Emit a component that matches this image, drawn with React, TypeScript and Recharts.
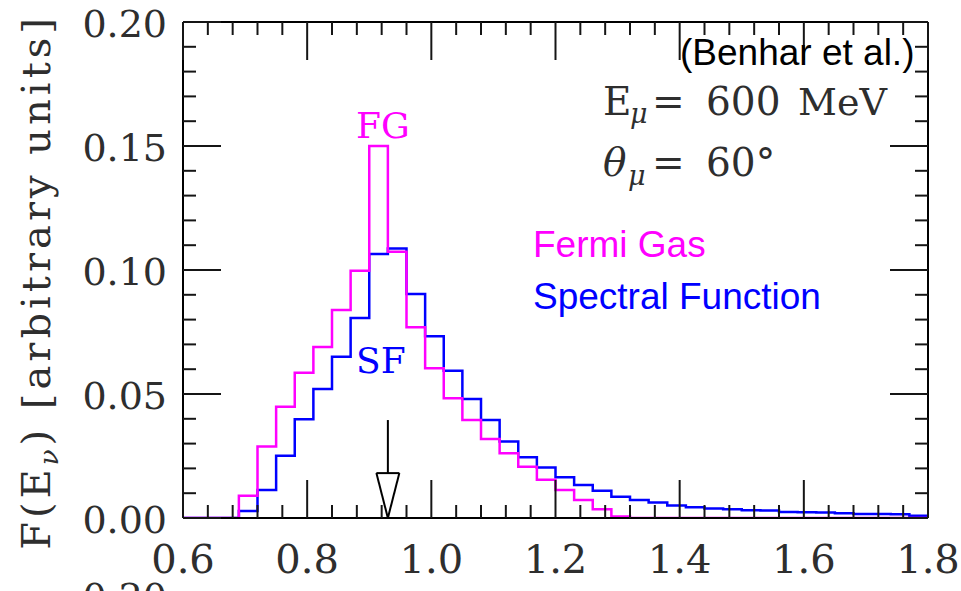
import React from 'react';
import { LineChart, Line, XAxis, YAxis, ReferenceLine } from 'recharts';

// bin edges of the histograms (last entry closes the final bin)
const binEdges = [
  0.6, 0.69, 0.72, 0.75, 0.78, 0.81, 0.84, 0.87, 0.9, 0.93, 0.96, 0.99, 1.02,
  1.05, 1.08, 1.11, 1.14, 1.17, 1.2, 1.23, 1.26, 1.29, 1.32, 1.35, 1.38, 1.41,
  1.44, 1.47, 1.5, 1.53, 1.56, 1.59, 1.62, 1.65, 1.68, 1.71, 1.74, 1.77, 1.8,
];

// Fermi Gas
const fgValues = [
  0, 0.009, 0.0288, 0.0449, 0.0586, 0.069, 0.0839, 0.0997, 0.15, 0.1074,
  0.0769, 0.0604, 0.0483, 0.0395, 0.0319, 0.0261, 0.0207, 0.0154, 0.0113,
  0.0073, 0.0035, 0.0006, 0, 0, 0, 0, 0, 0, 0, 0, 0, 0, 0, 0, 0, 0, 0, 0, 0,
];

// Spectral Function
const sfValues = [
  0, 0.0028, 0.0113, 0.0251, 0.0398, 0.052, 0.065, 0.0806, 0.1065, 0.1087,
  0.0903, 0.0733, 0.0594, 0.048, 0.0395, 0.0308, 0.0245, 0.0204, 0.0164,
  0.0133, 0.011, 0.0086, 0.0073, 0.0063, 0.005, 0.0043, 0.0038, 0.0035,
  0.0031, 0.003, 0.0024, 0.0023, 0.0022, 0.0019, 0.0016, 0.0016, 0.0015,
  0.0009, 0.0009,
];

const xTicks = [
  0.6, 0.64, 0.68, 0.72, 0.76, 0.8, 0.84, 0.88, 0.92, 0.96, 1.0, 1.04, 1.08,
  1.12, 1.16, 1.2, 1.24, 1.28, 1.32, 1.36, 1.4, 1.44, 1.48, 1.52, 1.56, 1.6,
  1.64, 1.68, 1.72, 1.76, 1.8,
];
const yTicks = [
  0, 0.01, 0.02, 0.03, 0.04, 0.05, 0.06, 0.07, 0.08, 0.09, 0.1, 0.11, 0.12,
  0.13, 0.14, 0.15, 0.16, 0.17, 0.18, 0.19, 0.2,
];

// arrow marking the beam energy
const arrowE = 0.93;
const arrowTop = 0.0395;
const arrowHead = 0.0181;
const arrowHalf = 0.0185;

const rows = binEdges.map((e, i) => ({ e, fg: fgValues[i], sf: sfValues[i] }));

const serif = '"DejaVu Serif", serif';
const sans = '"Liberation Sans", Arial, sans-serif';
const ink = '#151515';
const labelInk = '#2e2e2e';

const isMajorX = (v: number) => Math.abs(v * 5 - Math.round(v * 5)) < 1e-6;
const isMajorY = (v: number) => Math.abs(v * 20 - Math.round(v * 20)) < 1e-6;

// tick marks point inwards, so they are drawn by hand from the tick coordinate
const BottomTick = (props: any) => {
  const { x, payload } = props;
  const y = 518;
  const major = isMajorX(payload.value);
  return (
    <g>
      <line x1={x} y1={y} x2={x} y2={y - (major ? 38 : 13)} stroke={ink} strokeWidth={2} />
      {major && (
        <text x={x} y={y + 55} textAnchor="middle" fontFamily={serif} fontSize={40} fill={labelInk}>
          {Number(payload.value).toFixed(1)}
        </text>
      )}
    </g>
  );
};

const TopTick = (props: any) => {
  const { x, payload } = props;
  const y = 22;
  const major = isMajorX(payload.value);
  return <line x1={x} y1={y} x2={x} y2={y + (major ? 38 : 13)} stroke={ink} strokeWidth={2} />;
};

const LeftTick = (props: any) => {
  const { y, payload } = props;
  const x = 183;
  const major = isMajorY(payload.value);
  return (
    <g>
      <line x1={x} y1={y} x2={x + (major ? 38 : 13)} y2={y} stroke={ink} strokeWidth={2} />
      {major && (
        <text x={x - 16} y={y + 15} textAnchor="end" fontFamily={serif} fontSize={38} fill={labelInk}>
          {Number(payload.value).toFixed(2)}
        </text>
      )}
    </g>
  );
};

const RightTick = (props: any) => {
  const { y, payload } = props;
  const x = 928;
  const major = isMajorY(payload.value);
  return <line x1={x} y1={y} x2={x - (major ? 38 : 13)} y2={y} stroke={ink} strokeWidth={2} />;
};

export default function App() {
  const frame = { stroke: '#000', strokeWidth: 2 };
  return (
    <div style={{ position: 'absolute', left: 0, top: 0, width: 961, height: 591, background: '#fff', overflow: 'hidden' }}>
      <LineChart width={961} height={591} data={rows} margin={{ top: 2, right: 13, bottom: 53, left: 163 }}>
        <XAxis xAxisId="b" type="number" dataKey="e" domain={[0.6, 1.8]} ticks={xTicks} interval={0}
          height={20} tickSize={0} tickMargin={0} tickLine={false} axisLine={frame} tick={<BottomTick />} allowDataOverflow />
        <XAxis xAxisId="t" orientation="top" type="number" dataKey="e" domain={[0.6, 1.8]} ticks={xTicks} interval={0}
          height={20} tickSize={0} tickMargin={0} tickLine={false} axisLine={frame} tick={<TopTick />} allowDataOverflow />
        <YAxis yAxisId="l" type="number" domain={[0, 0.2]} ticks={yTicks} interval={0}
          width={20} tickSize={0} tickMargin={0} tickLine={false} axisLine={frame} tick={<LeftTick />} allowDataOverflow />
        <YAxis yAxisId="r" orientation="right" type="number" domain={[0, 0.2]} ticks={yTicks} interval={0}
          width={20} tickSize={0} tickMargin={0} tickLine={false} axisLine={frame} tick={<RightTick />} allowDataOverflow />
        <Line xAxisId="b" yAxisId="l" type="stepAfter" dataKey="sf" stroke="#0000ff" strokeWidth={2.5}
          dot={false} activeDot={false} isAnimationActive={false} />
        <Line xAxisId="b" yAxisId="l" type="stepAfter" dataKey="fg" stroke="#ff00ff" strokeWidth={2.5}
          dot={false} activeDot={false} isAnimationActive={false} />
        <ReferenceLine xAxisId="b" yAxisId="l" ifOverflow="visible" stroke="#000" strokeWidth={2}
          segment={[{ x: arrowE, y: arrowTop }, { x: arrowE, y: arrowHead }]} />
        <ReferenceLine xAxisId="b" yAxisId="l" ifOverflow="visible" stroke="#000" strokeWidth={2}
          segment={[{ x: arrowE - arrowHalf, y: arrowHead }, { x: arrowE + arrowHalf, y: arrowHead }]} />
        <ReferenceLine xAxisId="b" yAxisId="l" ifOverflow="visible" stroke="#000" strokeWidth={2}
          segment={[{ x: arrowE - arrowHalf, y: arrowHead }, { x: arrowE, y: 0 }]} />
        <ReferenceLine xAxisId="b" yAxisId="l" ifOverflow="visible" stroke="#000" strokeWidth={2}
          segment={[{ x: arrowE + arrowHalf, y: arrowHead }, { x: arrowE, y: 0 }]} />
      </LineChart>

      <svg width={961} height={591} style={{ position: 'absolute', left: 0, top: 0, pointerEvents: 'none' }}>
        <text transform="translate(50,282) rotate(-90)" textAnchor="middle" fontFamily={serif} fontSize={40}
          letterSpacing={4} fill={labelInk}>
          F(E<tspan fontSize={26} dy={8} fontStyle="italic">ν</tspan><tspan dy={-8}>) [arbitrary units]</tspan>
        </text>

        <text x={680} y={65} fontFamily={sans} fontSize={37} fill="#000">(Benhar et al.)</text>

        <g fontFamily={serif} fill={labelInk}>
          <text x={603} y={115} fontSize={39}>E</text>
          <text x={630} y={123} fontSize={27} fontStyle="italic">μ</text>
          <text x={652} y={115} fontSize={39}>=</text>
          <text x={706} y={115} fontSize={39}>600</text>
          <text x={798} y={115} fontSize={38}>MeV</text>

          <text x={603} y={176} fontSize={39} fontStyle="italic">θ</text>
          <text x={628} y={185} fontSize={27} fontStyle="italic">μ</text>
          <text x={652} y={176} fontSize={39}>=</text>
          <text x={706} y={176} fontSize={39}>60°</text>
        </g>

        <text x={356} y={138} fontFamily={serif} fontSize={36} fill="#ff00ff">FG</text>
        <text x={356} y={373} fontFamily={serif} fontSize={36} fill="#0000ff">SF</text>

        <text x={533} y={257} fontFamily={sans} fontSize={37} fill="#ff00ff">Fermi Gas</text>
        <text x={533} y={309} fontFamily={sans} fontSize={37} fill="#0000ff">Spectral Function</text>

        <text x={167} y={610} textAnchor="end" fontFamily={serif} fontSize={38} fill={labelInk}>0.20</text>
      </svg>
    </div>
  );
}
